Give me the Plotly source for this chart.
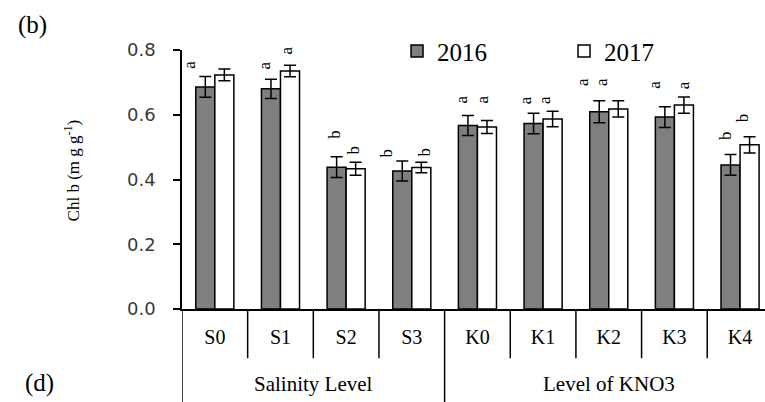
import plotly.graph_objects as go

categories = ["S0", "S1", "S2", "S3", "K0", "K1", "K2", "K3", "K4"]
vals_2016 = [0.686, 0.680, 0.438, 0.426, 0.567, 0.573, 0.609, 0.593, 0.445]
err_2016 = [0.032, 0.030, 0.032, 0.031, 0.031, 0.032, 0.034, 0.032, 0.032]
vals_2017 = [0.723, 0.735, 0.433, 0.437, 0.562, 0.587, 0.618, 0.630, 0.507]
err_2017 = [0.018, 0.018, 0.020, 0.016, 0.020, 0.024, 0.025, 0.025, 0.025]
letters_2016 = ["a", "a", "b", "b", "a", "a", "a", "a", "b"]
letters_2017 = ["a", "a", "b", "b", "a", "a", "a", "a", "b"]
letter_y_2016 = [0.754, 0.751, 0.541, 0.483, 0.646, 0.646, 0.701, 0.692, 0.537]
letter_y_2017 = [0.806, 0.800, 0.491, 0.486, 0.646, 0.646, 0.701, 0.692, 0.590]
letter_dx_2016 = [-0.38, -0.24, -0.17, -0.38, -0.24, -0.27, -0.41, -0.30, -0.23]
letter_dx_2017 = [-0.04, 0.09, 0.11, 0.20, 0.08, 0.03, -0.12, 0.15, 0.05]
groups = ["Salinity Level", "Level of KNO3"]
group_centers = [1.5, 6.0]
y_ticks = [0.0, 0.2, 0.4, 0.6, 0.8]

serif = "Liberation Serif, Times New Roman, serif"

fig = go.Figure()
fig.add_trace(go.Bar(
    x=categories, y=vals_2016, name="2016",
    marker=dict(color="#7f7f7f", line=dict(color="black", width=1.5)),
    error_y=dict(type="data", array=err_2016, color="black", thickness=1.5, width=6),
))
fig.add_trace(go.Bar(
    x=categories, y=vals_2017, name="2017",
    marker=dict(color="white", line=dict(color="black", width=1.5)),
    error_y=dict(type="data", array=err_2017, color="black", thickness=1.5, width=6),
))

ann = []
for i in range(len(categories)):
    ann.append(dict(x=i + letter_dx_2016[i], y=letter_y_2016[i], xref="x", yref="y",
                    text=letters_2016[i], showarrow=False, textangle=-90,
                    font=dict(family=serif, size=17, color="black")))
    ann.append(dict(x=i + letter_dx_2017[i], y=letter_y_2017[i], xref="x", yref="y",
                    text=letters_2017[i], showarrow=False, textangle=-90,
                    font=dict(family=serif, size=17, color="black")))
for g, c in zip(groups, group_centers):
    ann.append(dict(x=c, y=-0.29, xref="x", yref="paper", text=g, showarrow=False,
                    xanchor="center", yanchor="middle",
                    font=dict(family=serif, size=21, color="black")))
ann.append(dict(x=-0.1887, y=0.535, xref="paper", yref="paper",
                text="Chl b (m g g<sup>-1</sup>)", showarrow=False, textangle=-90,
                xanchor="center", yanchor="middle",
                font=dict(family=serif, size=17, color="black")))
ann.append(dict(x=(32 - 182) / 583, y=(309 - 25) / 259, xref="paper", yref="paper", text="(b)",
                showarrow=False, xanchor="center", yanchor="middle",
                font=dict(family=serif, size=25, color="black")))
ann.append(dict(x=(39 - 182) / 583, y=(309 - 383) / 259, xref="paper", yref="paper", text="(d)",
                showarrow=False, xanchor="center", yanchor="middle",
                font=dict(family=serif, size=25, color="black")))

shapes = []
for i in range(len(categories)):
    xs = i + 0.5
    y1 = -0.36 if i == 3 else -0.19
    shapes.append(dict(type="line", xref="x", yref="paper", x0=xs, x1=xs, y0=0, y1=y1,
                       line=dict(color="black", width=1.5)))
shapes.append(dict(type="line", xref="x", yref="paper", x0=-0.5, x1=-0.5, y0=0, y1=-0.36,
                   line=dict(color="black", width=1.5)))

fig.update_layout(
    width=765, height=402,
    margin=dict(l=182, r=0, t=50, b=93, autoexpand=False),
    barmode="group", bargap=0.42, bargroupgap=0,
    plot_bgcolor="white", paper_bgcolor="white",
    showlegend=True,
    legend=dict(orientation="h", xref="container", yref="container",
                x=0.519, y=0.93, xanchor="left", yanchor="top",
                entrywidth=122, font=dict(family=serif, size=25, color="black"),
                bgcolor="rgba(0,0,0,0)", itemclick=False),
    xaxis=dict(range=[-0.5, 8.38], showgrid=False, showline=True, linecolor="black", linewidth=1.5,
               ticks="outside", ticklen=9, tickcolor="rgba(0,0,0,0)", automargin=False,
               tickfont=dict(family=serif, size=20, color="black"), zeroline=False),
    yaxis=dict(range=[0, 0.8], tickvals=y_ticks, tickformat=".1f", showgrid=False, zeroline=False,
               showline=True, linecolor="black", linewidth=1.5, ticks="outside", ticklen=7,
               tickcolor="black", tickwidth=1.5, automargin=False, ticklabelstandoff=14,
               tickfont=dict(family="DejaVu Sans, sans-serif", size=18, color="#3a3a3a")),
    annotations=ann, shapes=shapes,
)

fig.write_html("out.html", config={"displayModeBar": False},
               post_script="document.body.style.margin='0';")
